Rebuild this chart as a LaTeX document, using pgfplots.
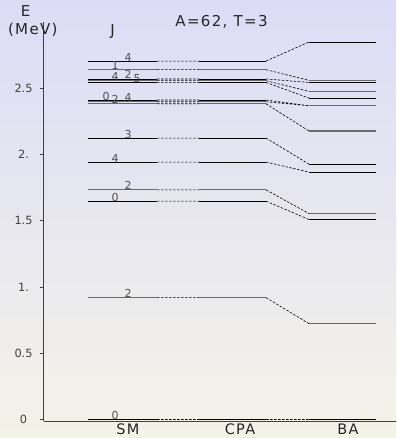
\documentclass[border=0pt]{standalone}
\usepackage{fontspec}
\setmainfont{DejaVu Sans}
\newfontfamily\lsf[LetterSpace=9]{DejaVu Sans}
\usepackage{pgfplots}
\pgfplotsset{compat=1.18}
\definecolor{lvgray}{HTML}{6a6a6a}
\definecolor{axgray}{HTML}{404040}
\definecolor{lbgray}{HTML}{505050}
\definecolor{bgtop}{RGB}{220,220,247}
\definecolor{bgbot}{RGB}{244,243,232}
\begin{document}
\begin{tikzpicture}[x=1pt,y=1pt]
\shade[top color=bgtop, bottom color=bgbot] (0,0) rectangle (396,438);
\begin{axis}[
  at={(43.5pt,16.5pt)}, anchor=south west, scale only axis,
  width=352.5pt, height=399.5pt,
  xmin=43.5, xmax=396, ymin=-0.015, ymax=3.0,
  axis x line=bottom, axis y line=left,
  axis line style={-, draw=axgray, line width=0.9pt},
  xtick={128,240,348}, xticklabels={SM,CPA,BA},
  ytick={0,0.5,1,1.5,2,2.5}, yticklabels={0,0.5,1.,1.5,2.,2.5},
  x tick style={draw=none},
  y tick style={draw=axgray, line width=0.6pt},
  major tick length=4pt, tick align=outside,
  yticklabel style={font=\fontsize{11.3}{13}\selectfont, text=axgray, anchor=center, xshift=-16pt},
  xticklabel style={font=\lsf\fontsize{14.5}{16}\selectfont, text=black!85, anchor=base, inner sep=0pt, yshift=-8.5pt},
  clip=false,
  unbounded coords=jump,
]
% black solid levels: SM, CPA, BA
\addplot[black, line width=0.7pt] table {
x y
88 0.000
157 0.000
nan nan
199 0.000
266 0.000
nan nan
309 0.000
376 0.000
nan nan
88 1.648
157 1.648
nan nan
199 1.648
266 1.648
nan nan
309 1.509
376 1.509
nan nan
88 1.943
157 1.943
nan nan
199 1.943
266 1.943
nan nan
309 1.867
376 1.867
nan nan
88 2.124
157 2.124
nan nan
199 2.124
266 2.124
nan nan
309 1.927
376 1.927
nan nan
88 2.411
157 2.411
nan nan
199 2.411
266 2.411
nan nan
309 2.368
376 2.368
nan nan
88 2.544
157 2.544
nan nan
199 2.544
266 2.544
nan nan
309 2.426
376 2.426
nan nan
88 2.570
157 2.570
nan nan
199 2.570
266 2.570
nan nan
309 2.544
376 2.544
nan nan
88 2.705
157 2.705
nan nan
199 2.705
266 2.705
nan nan
309 2.849
376 2.849
};
% gray solid levels
\addplot[lvgray, line width=1.1pt] table {
x y
88 0.920
157 0.920
nan nan
199 0.920
266 0.920
nan nan
309 0.724
376 0.724
nan nan
88 1.733
157 1.733
nan nan
199 1.733
266 1.733
nan nan
309 1.554
376 1.554
nan nan
88 2.383
157 2.383
nan nan
199 2.383
266 2.383
nan nan
309 2.177
376 2.177
nan nan
88 2.398
157 2.398
nan nan
199 2.398
266 2.398
nan nan
309 2.368
376 2.368
nan nan
88 2.557
157 2.557
nan nan
199 2.557
266 2.557
nan nan
309 2.476
376 2.476
nan nan
88 2.640
157 2.640
nan nan
199 2.640
266 2.640
nan nan
309 2.559
376 2.559
};
% dashed connectors
\addplot[black, line width=0.6pt, dash pattern=on 2.5pt off 1.5pt] table {
x y
157 0.000
199 0.000
nan nan
266 0.000
309 0.000
nan nan
157 0.920
199 0.920
nan nan
266 0.920
309 0.724
nan nan
157 1.648
199 1.648
nan nan
266 1.648
309 1.509
nan nan
157 1.733
199 1.733
nan nan
266 1.733
309 1.554
nan nan
157 1.943
199 1.943
nan nan
266 1.943
309 1.867
nan nan
157 2.124
199 2.124
nan nan
266 2.124
309 1.927
nan nan
157 2.383
199 2.383
nan nan
266 2.383
309 2.177
nan nan
157 2.398
199 2.398
nan nan
266 2.398
309 2.368
nan nan
157 2.411
199 2.411
nan nan
266 2.411
309 2.368
nan nan
157 2.544
199 2.544
nan nan
266 2.544
309 2.426
nan nan
157 2.557
199 2.557
nan nan
266 2.557
309 2.476
nan nan
157 2.570
199 2.570
nan nan
266 2.570
309 2.544
nan nan
157 2.640
199 2.640
nan nan
266 2.640
309 2.559
nan nan
157 2.705
199 2.705
nan nan
266 2.705
309 2.849
};
% J labels
\begin{scope}[every node/.style={anchor=base, inner sep=0pt, font=\fontsize{11}{12}\selectfont, text=lbgray}]
\node at (axis cs:115,0.000) {0};
\node at (axis cs:128,0.920) {2};
\node at (axis cs:115,1.648) {0};
\node at (axis cs:128,1.733) {2};
\node at (axis cs:115,1.943) {4};
\node at (axis cs:128,2.124) {3};
\node at (axis cs:115,2.383) {2};
\node at (axis cs:128,2.398) {4};
\node at (axis cs:106,2.411) {0};
\node at (axis cs:137,2.544) {5};
\node at (axis cs:115,2.557) {4};
\node at (axis cs:128,2.570) {2};
\node at (axis cs:115,2.640) {1};
\node at (axis cs:128,2.705) {4};
\end{scope}
\end{axis}
\begin{scope}[every node/.style={anchor=base, inner sep=0pt, font=\lsf\fontsize{15}{17}\selectfont, text=black!85}]
\node at (221.5,411.3) {A=62, T=3};
\node at (25.7,421.3) {E};
\node at (32.8,403) {(MeV)};
\node at (112.5,402) {J};
\end{scope}
\pgfresetboundingbox
\useasboundingbox (0,0) rectangle (396,438);
\end{tikzpicture}
\end{document}
